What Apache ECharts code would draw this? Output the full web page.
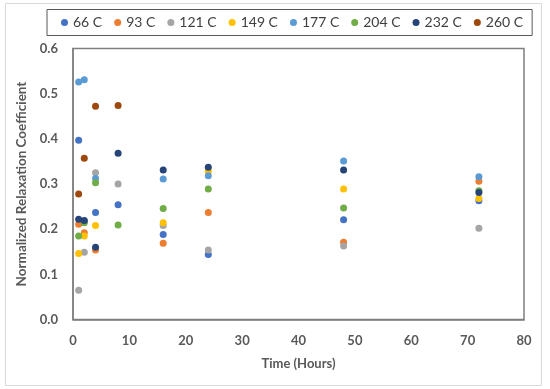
<!DOCTYPE html>
<html>
<head>
<meta charset="utf-8">
<script src="https://cdn.jsdelivr.net/npm/echarts@6/dist/echarts.min.js"></script>
<style>html,body{margin:0;padding:0;background:#fff}#c{width:550px;height:389px}</style>
</head>
<body>
<div id="c"></div>
<script>
var times = [1, 2, 4, 8, 16, 24, 48, 72];
var seriesNames = ['66 C', '93 C', '121 C', '149 C', '177 C', '204 C', '232 C', '260 C'];
var s66  = [0.397, 0.217, 0.237, 0.254, 0.188, 0.144, 0.221, 0.263];
var s93  = [0.211, 0.192, 0.154, null, 0.169, 0.237, 0.171, 0.306];
var s121 = [0.065, 0.149, 0.325, 0.300, 0.208, 0.154, 0.163, 0.202];
var s149 = [0.146, 0.185, 0.208, null, 0.214, 0.328, 0.289, 0.268];
var s177 = [0.526, 0.531, 0.312, null, 0.311, 0.318, 0.351, 0.316];
var s204 = [0.185, 0.214, 0.303, 0.209, 0.246, 0.289, 0.247, 0.285];
var s232 = [0.222, 0.219, 0.160, 0.368, 0.331, 0.337, 0.331, 0.281];
var s260 = [0.278, 0.357, 0.472, 0.474, null, null, null, null];
var xTicks = [0, 10, 20, 30, 40, 50, 60, 70, 80];
var yTicks = [0.0, 0.1, 0.2, 0.3, 0.4, 0.5, 0.6];

var colors = ['#4472C4', '#ED7D31', '#A5A5A5', '#FFC000', '#5B9BD5', '#70AD47', '#264478', '#9E480E'];
var allVals = [s66, s93, s121, s149, s177, s204, s232, s260];
var font = 'Lato, "Open Sans", sans-serif';

function pairs(vals) {
  var out = [];
  for (var i = 0; i < times.length; i++) {
    if (vals[i] !== null) out.push([times[i], vals[i]]);
  }
  return out;
}

var series = seriesNames.map(function (n, i) {
  return {
    name: n, type: 'scatter', data: pairs(allVals[i]),
    symbol: 'circle', symbolSize: 7,
    itemStyle: { color: colors[i], opacity: 1 }
  };
});

var chart = echarts.init(document.getElementById('c'), null, { renderer: 'canvas' });
chart.setOption({
  animation: false,
  color: colors,
  graphic: [{
    type: 'rect', left: 5, top: 3, silent: true, z: -10,
    shape: { width: 536, height: 382 },
    style: { fill: '#fff', stroke: '#D9D9D9', lineWidth: 1 }
  }],
  legend: {
    left: 47, top: 9.5,
    padding: [6, 9, 6, 14],
    borderColor: '#595959', borderWidth: 1,
    itemWidth: 7, itemHeight: 7, itemGap: 12,
    icon: 'circle',
    textStyle: { fontFamily: font, fontSize: 14, color: '#404040', lineHeight: 14 },
    data: seriesNames
  },
  grid: {
    left: 73, right: 26, top: 48.5, bottom: 69.5,
    show: true, borderColor: '#7F7F7F', borderWidth: 1.5, backgroundColor: 'transparent'
  },
  xAxis: {
    type: 'value', min: xTicks[0], max: xTicks[xTicks.length - 1], interval: 10,
    name: 'Time (Hours)', nameLocation: 'middle', nameGap: 38,
    nameTextStyle: { fontFamily: font, fontSize: 13, fontWeight: 'bold', color: '#595959' },
    axisLine: { show: true, lineStyle: { color: '#7F7F7F', width: 1.5 } },
    axisTick: { show: false },
    splitLine: { show: false },
    axisLabel: { margin: 15, fontFamily: font, fontSize: 13, fontWeight: 'bold', color: '#595959' }
  },
  yAxis: {
    type: 'value', min: yTicks[0], max: yTicks[yTicks.length - 1], interval: 0.1,
    name: 'Normalized Relaxation Coefficient', nameLocation: 'middle', nameGap: 44,
    nameTextStyle: { fontFamily: font, fontSize: 13.5, fontWeight: 'bold', color: '#595959' },
    axisLine: { show: true, lineStyle: { color: '#7F7F7F', width: 1.5 } },
    axisTick: { show: false },
    splitLine: { show: false },
    axisLabel: {
      margin: 15, fontFamily: font, fontSize: 13, fontWeight: 'bold', color: '#595959',
      formatter: function (v) { return v.toFixed(1); }
    }
  },
  series: series
});
</script>
</body>
</html>
